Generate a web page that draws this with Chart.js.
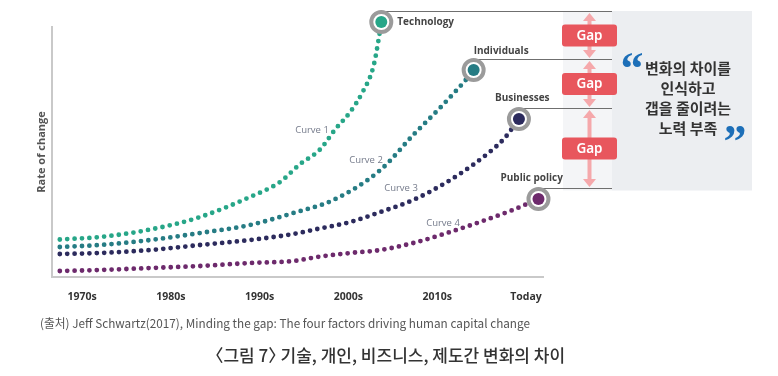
<!DOCTYPE html>
<html>
<head>
<meta charset="utf-8">
<script src="https://cdn.jsdelivr.net/npm/chart.js@4.4.1/dist/chart.umd.min.js"></script>
<style>
  html, body { margin: 0; padding: 0; background: #fff; }
  #wrap { width: 778px; height: 376px; position: relative; }
</style>
</head>
<body>
<div id="wrap"><canvas id="graf" width="778" height="376"></canvas></div>
<script>
// x-akseln: årtal, tick-etiketter
const tickValues = [1970, 1980, 1990, 2000, 2010, 2020];
const tickLabels = ['1970s', '1980s', '1990s', '2000s', '2010s', 'Today'];

// kurvor (x = år, y = förändringstakt)
const curve1X = [1967.5, 1972, 1977.7, 1983.3, 1988.9, 1992.3, 1994.5, 1996.8, 1998.5, 2000.2, 2001.6, 2002.8, 2003.4, 2003.7];
const curve1Y = [15, 16, 19, 24, 32, 38, 45, 51, 59, 66, 74, 84, 95, 102];

const curve2X = [1967.5, 1972, 1977.7, 1983.3, 1988.9, 1993.8, 1998.3, 2003.6, 2007.3, 2010.3, 2012.2, 2013.4, 2014.1];
const curve2Y = [12, 12.8, 14.8, 17.6, 20.8, 25.6, 30.8, 42.8, 56.8, 67.6, 74.8, 79.6, 82.8];

const curve3X = [1967.5, 1972, 1977.7, 1983.3, 1988.9, 1993.8, 1996.5, 2000.2, 2003.6, 2007.3, 2011.1, 2014, 2015.9, 2017.6, 2019.2];
const curve3Y = [9.2, 9.6, 10.8, 12.8, 14.8, 17.2, 19.2, 22, 26, 30.8, 38, 44.8, 50, 55.6, 63.2];

const curve4X = [1967.5, 1972, 1977.7, 1983.3, 1988.9, 1993.8, 1996.5, 2000.2, 2003.6, 2007.3, 2011.1, 2014.8, 2018.5, 2020.1, 2021.4];
const curve4Y = [2.4, 2.8, 3.6, 4.4, 5.6, 6.4, 8, 9.6, 10.8, 13.6, 17.6, 22, 26.8, 29.2, 31.2];

const seriesNames = ['Technology', 'Individuals', 'Businesses', 'Public policy'];
const curveNames = ['Curve 1', 'Curve 2', 'Curve 3', 'Curve 4'];
const colors = ['#27a688', '#267c84', '#2c2b5d', '#6d2a6c'];

const gapLabel = 'Gap';
const quoteLines = ['변화의 차이를', '인식하고', '갭을 줄이려는', '노력 부족'];
const sourceText = '(출처) Jeff Schwartz(2017), Minding the gap: The four factors driving human capital change';
const titleParts = ['〈', '그림 7', '〉', ' 기술, 개인, 비즈니스, 제도간 변화의 차이'];

const allX = [curve1X, curve2X, curve3X, curve4X];
const allY = [curve1Y, curve2Y, curve3Y, curve4Y];

function pts(xs, ys) { return xs.map((x, i) => ({ x: x, y: ys[i] })); }
function lastPt(xs, ys) { return [{ x: xs[xs.length - 1], y: ys[ys.length - 1] }]; }

const datasets = [];
allX.forEach((xs, i) => {
    datasets.push({
        data: pts(xs, allY[i]),
        showLine: true,
        borderColor: colors[i],
        borderWidth: 4.8,
        borderDash: [0, 7.4],
        borderCapStyle: 'round',
        cubicInterpolationMode: 'monotone',
        pointRadius: 0,
        pointHoverRadius: 0,
        fill: false,
        clip: false,
        order: 3
    });
    // grå ring
    datasets.push({
        data: lastPt(xs, allY[i]),
        pointRadius: 10,
        pointBackgroundColor: '#fff',
        pointBorderColor: '#9b9b9b',
        pointBorderWidth: 4,
        clip: false,
        order: 2
    });
    // färgad prick
    datasets.push({
        data: lastPt(xs, allY[i]),
        pointRadius: 6,
        pointBackgroundColor: colors[i],
        pointBorderWidth: 0,
        clip: false,
        order: 1
    });
});

// etikett-förskjutning relativt ändpunkten (px)
const labelOffsets = [[16, 0], [0, -19], [-24, -21], [-38, -21]];
const curveLabelPos = [[312, 130], [366, 160], [401, 188], [443, 223]];

const overlay = {
    id: 'overlay',
    beforeDatasetsDraw(chart) {
        const ctx = chart.ctx;
        const xs = chart.scales.x, ys = chart.scales.y;
        const ends = allX.map((a, i) => ({ x: xs.getPixelForValue(a[a.length - 1]), y: ys.getPixelForValue(allY[i][allY[i].length - 1]) }));
        const lineY = ends.map(e => Math.round(e.y - 11) + 0.5);

        // grå panel
        ctx.save();
        const pTop = lineY[0] - 0.5, pBot = lineY[3] + 2;
        ctx.fillStyle = '#f4f5f7';
        ctx.fillRect(563, pTop, 49, pBot - pTop);
        ctx.fillStyle = '#eceef1';
        ctx.fillRect(612, pTop, 140, pBot - pTop);

        // ledlinjer
        ctx.strokeStyle = '#6f6f6f';
        ctx.lineWidth = 1;
        ends.forEach((e, i) => {
            ctx.beginPath();
            ctx.moveTo(Math.round(e.x), lineY[i]);
            ctx.lineTo(612, lineY[i]);
            ctx.stroke();
        });

        // pilar
        const ax = 589.5;
        ctx.fillStyle = '#f5a8ab';
        ctx.strokeStyle = '#f5a8ab';
        for (let i = 0; i < 3; i++) {
            const t = lineY[i] + 1.5, b = lineY[i + 1] - 1.5;
            ctx.lineWidth = 4;
            ctx.beginPath();
            ctx.moveTo(ax, t + 6);
            ctx.lineTo(ax, b - 6);
            ctx.stroke();
            ctx.beginPath();
            ctx.moveTo(ax, t); ctx.lineTo(ax - 6.5, t + 8); ctx.lineTo(ax + 6.5, t + 8); ctx.closePath();
            ctx.fill();
            ctx.beginPath();
            ctx.moveTo(ax, b); ctx.lineTo(ax - 6.5, b - 8); ctx.lineTo(ax + 6.5, b - 8); ctx.closePath();
            ctx.fill();

            // Gap-rutor
            const cy = (lineY[i] + lineY[i + 1]) / 2;
            ctx.fillStyle = '#e8565d';
            ctx.beginPath();
            ctx.roundRect(562, cy - 11, 55, 22, 3);
            ctx.fill();
            ctx.fillStyle = '#fff';
            ctx.font = '600 13.5px "Noto Sans"';
            ctx.textAlign = 'center';
            ctx.textBaseline = 'middle';
            ctx.fillText(gapLabel, 589.5, cy + 0.5);
            ctx.fillStyle = '#f5a8ab';
        }

        // citattext
        ctx.fillStyle = '#333';
        ctx.font = 'bold 15px "Noto Sans CJK KR"';
        ctx.textAlign = 'center';
        ctx.textBaseline = 'middle';
        quoteLines.forEach((s, i) => ctx.fillText(s, 688, 68 + i * 20));
        ctx.fillStyle = '#1d6fb8';
        ctx.font = 'bold 46px "Liberation Serif"';
        ctx.fillText('\u201C', 632, 72);
        ctx.fillText('\u201D', 735, 145);

        // kurvetiketter
        ctx.fillStyle = '#767c8c';
        ctx.font = '9.5px "Open Sans"';
        curveLabelPos.forEach((p, i) => ctx.fillText(curveNames[i], p[0], p[1]));

        // serienamn
        ctx.fillStyle = '#444';
        ctx.font = 'bold 10px "Open Sans"';
        ctx.textAlign = 'left';
        ends.forEach((e, i) => ctx.fillText(seriesNames[i], e.x + labelOffsets[i][0], e.y + labelOffsets[i][1]));

        // källa
        ctx.fillStyle = '#555';
        ctx.font = '12px "Noto Sans CJK KR"';
        ctx.fillText(sourceText, 40, 323, 490);

        // rubrik, halvbreda vinkelparenteser
        ctx.fillStyle = '#333';
        ctx.font = '500 17px "Noto Sans CJK KR"';
        ctx.textAlign = 'left';
        const half = 8.5;
        const w1 = ctx.measureText(titleParts[1]).width;
        const w3 = ctx.measureText(titleParts[3]).width;
        const total = half + w1 + half + w3;
        let x = 390 - total / 2;
        ctx.fillText(titleParts[0], x - half, 356);
        x += half;
        ctx.fillText(titleParts[1], x, 356);
        x += w1;
        ctx.fillText(titleParts[2], x, 356);
        x += half;
        ctx.fillText(titleParts[3], x, 356);
        ctx.restore();
    }
};

const chart = new Chart(document.getElementById('graf'), {
    type: 'scatter',
    data: { datasets: datasets },
    plugins: [overlay],
    options: {
        responsive: false,
        animation: false,
        events: [],
        layout: { padding: { left: 32, top: 27, right: 235, bottom: 69 } },
        plugins: { legend: { display: false }, tooltip: { enabled: false } },
        scales: {
            x: {
                type: 'linear',
                min: 1966.62,
                max: 2021.91,
                afterFit: s => { s.height = 30; },
                afterBuildTicks: s => { s.ticks = tickValues.map(v => ({ value: v })); },
                grid: { display: false, drawTicks: false },
                border: { display: true, color: '#c9c9c9', width: 2 },
                ticks: {
                    padding: 14,
                    maxRotation: 0,
                    autoSkip: false,
                    color: '#333',
                    font: { family: '"Open Sans"', size: 10.5, weight: 'bold' },
                    callback: v => tickLabels[tickValues.indexOf(v)]
                }
            },
            y: {
                min: 0,
                max: 100,
                afterFit: s => { s.width = 20; },
                grid: { display: false, drawTicks: false },
                border: { display: true, color: '#c9c9c9', width: 2 },
                ticks: { display: false },
                title: {
                    display: true,
                    text: 'Rate of change',
                    color: '#555',
                    padding: { top: 3, bottom: 0 },
                    font: { family: '"Open Sans"', size: 11, weight: 'bold' }
                }
            }
        }
    }
});
</script>
</body>
</html>
